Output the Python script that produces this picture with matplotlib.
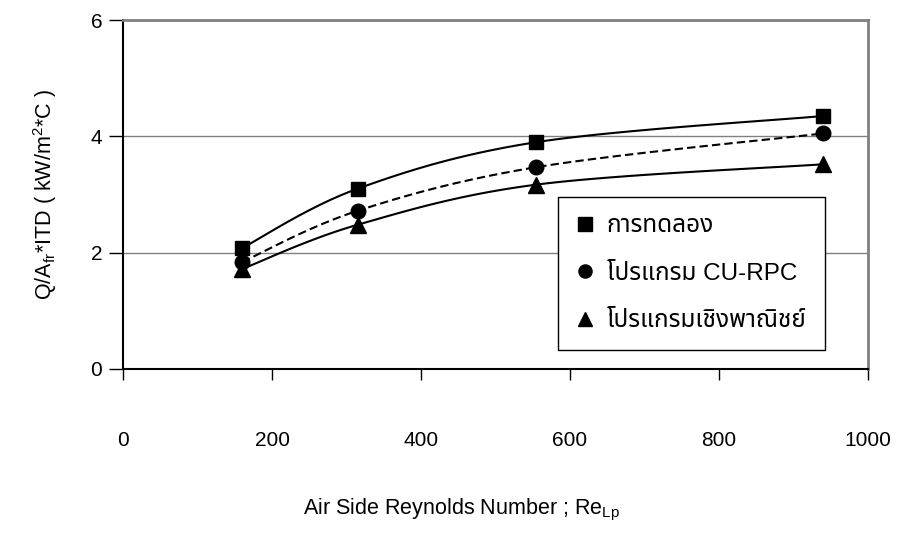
import numpy as np
import matplotlib
matplotlib.use("Agg")
import matplotlib.pyplot as plt

plt.rcParams['font.family'] = ['Liberation Sans', 'Noto Sans Thai', 'DejaVu Sans']
plt.rcParams['mathtext.fontset'] = 'custom'
plt.rcParams['mathtext.rm'] = 'Liberation Sans'
plt.rcParams['mathtext.it'] = 'Liberation Sans'

re_lp = [160, 315, 555, 940]
experiment = [2.08, 3.1, 3.9, 4.35]
cu_rpc = [1.84, 2.72, 3.47, 4.05]
commercial = [1.72, 2.48, 3.17, 3.52]
labels = ["การทดลอง", "โปรแกรม CU-RPC", "โปรแกรมเชิงพาณิชย์"]
x_ticks = [0, 200, 400, 600, 800, 1000]
y_ticks = [0, 2, 4, 6]


def smooth(xs, ys, n=40):
    # Catmull-Rom curve through the points, like a smoothed Excel line
    p = np.column_stack([xs, ys]).astype(float)
    p = np.vstack([p[0], p, p[-1]])
    out = []
    t = np.linspace(0, 1, n)[:, None]
    for i in range(1, len(p) - 2):
        p0, p1, p2, p3 = p[i - 1], p[i], p[i + 1], p[i + 2]
        seg = 0.5 * ((2 * p1) + (-p0 + p2) * t + (2 * p0 - 5 * p1 + 4 * p2 - p3) * t ** 2
                     + (-p0 + 3 * p1 - 3 * p2 + p3) * t ** 3)
        out.append(seg)
    out = np.vstack(out)
    return out[:, 0], out[:, 1]


fig = plt.figure(figsize=(8.98, 5.41), dpi=100)
ax = fig.add_axes([123 / 898, 1 - 369 / 541, 745 / 898, 349 / 541])

sx, sy = smooth(re_lp, experiment)
ax.plot(sx, sy, color='black', lw=1.5)
sx, sy = smooth(re_lp, cu_rpc)
ax.plot(sx, sy, color='black', lw=1.5, ls=(0, (4, 2)))
sx, sy = smooth(re_lp, commercial)
ax.plot(sx, sy, color='black', lw=1.5)

ax.plot(re_lp, experiment, ls='none', marker='s', ms=10.5, color='black', label=labels[0])
ax.plot(re_lp, cu_rpc, ls='none', marker='o', ms=10.5, color='black', label=labels[1])
ax.plot(re_lp, commercial, ls='none', marker='^', ms=11, color='black', label=labels[2])

ax.set_xlim(0, 1000)
ax.set_ylim(0, 6)
ax.set_xticks(x_ticks)
ax.set_yticks(y_ticks)
ax.tick_params(axis='x', direction='out', length=8, width=1, pad=37, labelsize=15, color='black')
ax.tick_params(axis='y', direction='out', length=10, width=1, pad=5, labelsize=15)
ax.yaxis.grid(True, color='#808080', lw=1)
ax.set_axisbelow(True)
for s in ['top', 'right']:
    ax.spines[s].set_color('#808080')
    ax.spines[s].set_linewidth(2)
for s in ['left', 'bottom']:
    ax.spines[s].set_color('black')
    ax.spines[s].set_linewidth(1.5)

leg = ax.legend(loc='upper left', bbox_to_anchor=(0.584, 0.493), fontsize=17.5,
                frameon=True, fancybox=False, framealpha=1, edgecolor='black',
                handlelength=0.7, handletextpad=0.55, labelspacing=1.05,
                borderpad=0.75, borderaxespad=0, markerscale=0.9)
leg.get_frame().set_linewidth(1)

fig.text(0.05, 1 - 195 / 541, r"Q/A$_{\mathregular{fr}}$*ITD ( kW/m$^{\mathregular{2}}$*C )",
         rotation=90, ha='center', va='center', fontsize=15.5)
fig.text(462 / 898, 1 - 510 / 541, r"Air Side Reynolds Number ; Re$_{\mathregular{Lp}}$",
         ha='center', va='center', fontsize=15.5)

fig.savefig("out.png", dpi=100)
